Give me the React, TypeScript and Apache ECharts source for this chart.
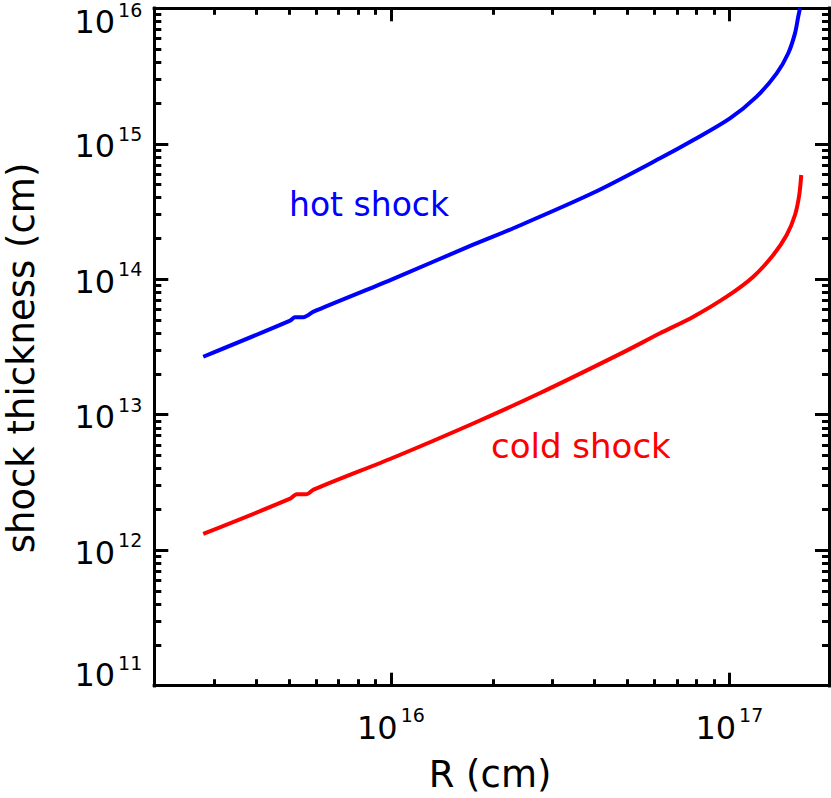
import React, { useEffect, useRef } from 'react';
import * as echarts from 'echarts';

// ---- data ----
const hotR = [2.79e15, 5.04e15, 5.21e15, 5.51e15, 5.91e15, 1.0e16, 1.75e16, 2.3e16, 3.95e16, 6.24e16, 7.83e16, 1.004e17, 1.204e17, 1.38e17, 1.493e17, 1.563e17, 1.598e17, 1.617e17];
const hotThickness = [2.68e13, 4.95e13, 5.25e13, 5.25e13, 5.77e13, 9.9e13, 1.8e14, 2.38e14, 4.33e14, 7.81e14, 1.066e15, 1.54e15, 2.23e15, 3.31e15, 4.66e15, 6.53e15, 8.67e15, 1.0e16];

const coldR = [2.79e15, 5.04e15, 5.27e15, 5.64e15, 5.91e15, 1.04e16, 1.75e16, 2.75e16, 4.74e16, 6.24e16, 7.83e16, 9.82e16, 1.177e17, 1.348e17, 1.477e17, 1.563e17, 1.609e17, 1.631e17];
const coldThickness = [1.32e12, 2.4e12, 2.59e12, 2.59e12, 2.8e12, 4.94e12, 8.62e12, 1.44e13, 2.8e13, 3.99e13, 5.29e13, 7.44e13, 1.045e14, 1.51e14, 2.12e14, 2.98e14, 4.19e14, 5.88e14];

// axis ranges and tick values
const xRange = [2e15, 1.97e17];
const yRange = [1e11, 1e16];
const xLabelValues = [1e16, 1e17];
const xMajorTicks = [1e16, 1e17];
const xMinorTicks = [3e15, 4e15, 5e15, 6e15, 7e15, 8e15, 9e15, 2e16, 3e16, 4e16, 5e16, 6e16, 7e16, 8e16, 9e16];
const yInnerLabelValues = [1e12, 1e13, 1e14, 1e15];
const yTopLabelValues = [1e16];
const yBottomLabelValues = [1e11];
const yMajorTicks = [1e12, 1e13, 1e14, 1e15];
const mantissas = [2, 3, 4, 5, 6, 7, 8, 9];
const yDecades = [1e11, 1e12, 1e13, 1e14, 1e15];
const yMinorTicks = yDecades.flatMap((d) => mantissas.map((m) => m * d));

// texts
const xTitle = 'R (cm)';
const yTitle = 'shock thickness (cm)';
const hotLabel = 'hot shock';
const coldLabel = 'cold shock';

const FONT = 'DejaVu Sans';
const BLUE = '#0000ff';
const RED = '#ff0000';

const powFormatter = (v: number) => '{b|10}{s|' + Math.round(Math.log10(v)) + '}';

const rich = {
  b: { fontSize: 32, fontFamily: FONT, color: '#000', lineHeight: 44 },
  s: { fontSize: 19, fontFamily: FONT, color: '#000', lineHeight: 19, verticalAlign: 'top', padding: [0, 0, 0, 3] },
};

function makeAxis(
  range: number[],
  position: string,
  ticks: number[] | null,
  tickLen: number,
  labels: number[] | null,
  margin = 0,
  padding: number[] = [0, 0, 0, 0],
  showLine = true
) {
  return {
    type: 'log',
    logBase: 10,
    min: range[0],
    max: range[1],
    position,
    axisLine: { show: showLine, onZero: false, lineStyle: { color: '#000', width: 3, cap: 'square' } },
    axisTick: ticks
      ? {
          show: true,
          inside: true,
          length: tickLen,
          customValues: ticks,
          lineStyle: { color: '#000', width: 3 },
        }
      : { show: false },
    axisLabel: labels
      ? { show: true, customValues: labels, margin, padding, formatter: powFormatter, rich }
      : { show: false },
    splitLine: { show: false },
    minorTick: { show: false },
    minorSplitLine: { show: false },
  };
}

export default function App() {
  const ref = useRef<HTMLDivElement>(null);
  useEffect(() => {
    if (!ref.current) return;
    const chart = echarts.init(ref.current, undefined, { renderer: 'svg' });
    const option: any = {
      animation: false,
      backgroundColor: '#fff',
      grid: { left: 154.3, right: 2, top: 8.3, bottom: 112.3, containLabel: false, show: false },
      xAxis: [
        makeAxis(xRange, 'bottom', xMajorTicks, 13, xLabelValues, 20),
        makeAxis(xRange, 'bottom', xMinorTicks, 6.5, null),
        makeAxis(xRange, 'top', xMajorTicks, 13, null),
        makeAxis(xRange, 'top', xMinorTicks, 6.5, null),
      ],
      yAxis: [
        makeAxis(yRange, 'left', yMajorTicks, 14, yInnerLabelValues, 12, [5, 0, 0, 0]),
        makeAxis(yRange, 'left', yMinorTicks, 7, null),
        makeAxis(yRange, 'right', yMajorTicks, 14, null),
        makeAxis(yRange, 'right', yMinorTicks, 7, null),
        // edge labels sit inside the frame, as in the reference
        makeAxis(yRange, 'left', null, 0, yTopLabelValues, 12, [28, 0, 0, 0], false),
        makeAxis(yRange, 'left', null, 0, yBottomLabelValues, 12, [0, 0, 21, 0], false),
      ],
      series: [
        {
          type: 'line',
          name: hotLabel,
          xAxisIndex: 0,
          yAxisIndex: 0,
          data: hotR.map((r, i) => [r, hotThickness[i]]),
          showSymbol: false,
          smooth: 0.3,
          lineStyle: { color: BLUE, width: 4 },
          itemStyle: { color: BLUE },
          clip: true,
        },
        {
          type: 'line',
          name: coldLabel,
          xAxisIndex: 0,
          yAxisIndex: 0,
          data: coldR.map((r, i) => [r, coldThickness[i]]),
          showSymbol: false,
          smooth: 0.3,
          lineStyle: { color: RED, width: 4 },
          itemStyle: { color: RED },
          clip: true,
        },
      ],
      graphic: [
        {
          type: 'text',
          x: 21,
          y: 358,
          rotation: Math.PI / 2,
          style: { text: yTitle, fontSize: 37, fontFamily: FONT, fill: '#000', align: 'center', verticalAlign: 'middle' },
        },
        {
          type: 'text',
          x: 490,
          y: 774.5,
          style: { text: xTitle, fontSize: 37, fontFamily: FONT, fill: '#000', align: 'center', verticalAlign: 'middle' },
        },
        {
          type: 'text',
          x: 289,
          y: 204.5,
          style: { text: hotLabel, fontSize: 33, fontFamily: FONT, fill: BLUE, align: 'left', verticalAlign: 'middle' },
        },
        {
          type: 'text',
          x: 491,
          y: 445.5,
          style: { text: coldLabel, fontSize: 34, fontFamily: FONT, fill: RED, align: 'left', verticalAlign: 'middle' },
        },
      ],
    };
    chart.setOption(option);
    return () => chart.dispose();
  }, []);
  return <div ref={ref} style={{ position: 'fixed', left: 0, top: 0, width: 831, height: 798 }} />;
}
